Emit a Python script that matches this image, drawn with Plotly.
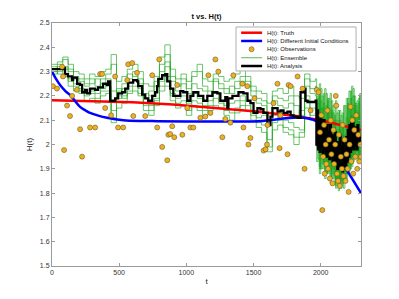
import plotly.graph_objects as go

# ---------------- data ----------------
truth_t = [0, 300, 600, 900, 1200, 1500, 1800, 2000, 2300]
truth_h = [2.182, 2.179, 2.174, 2.165, 2.152, 2.137, 2.118, 2.10, 2.06]

dic_t = [0, 30, 60, 100, 134, 170, 209, 250, 283, 350, 410, 470, 530, 650, 783, 1000, 1500, 1970, 2200, 2300]
dic_h = [2.30, 2.27, 2.245, 2.22, 2.204, 2.18, 2.155, 2.14, 2.13, 2.118, 2.11, 2.104, 2.10, 2.097, 2.096, 2.095, 2.095, 2.095, 1.89, 1.80]

obs_t = [7, 37, 75, 82, 90, 112, 134, 150, 185, 209, 224, 283, 321, 358, 373, 396, 440, 470, 492, 530,
         560, 567, 597, 605, 633, 694, 746, 783, 798, 820, 858, 866, 880, 895, 910, 932, 970, 1007, 1030, 1052,
         1104, 1141, 1164, 1179, 1216, 1238, 1268, 1290, 1328, 1350, 1417, 1425, 1454, 1462, 1477, 1507, 1575, 1590, 1600, 1604,
         1649, 1678, 1694, 1700, 1753, 1761, 1776, 1828, 1865, 1880, 1925, 1970, 1985,
         1995, 2005, 2012, 2018, 2025, 2030, 2037, 2042, 2050, 2055, 2062, 2068, 2075, 2080, 2088, 2095, 2100, 2108, 2112, 2116,
         2122, 2130, 2135, 2142, 2150, 2158, 2163, 2170, 2178, 2185, 2192, 2200, 2208, 2215, 2222, 2228, 2235, 2242, 2250, 2258,
         2265, 2272, 2280, 2288, 2295, 2300]
obs_h = [2.24, 2.23, 2.32, 2.28, 1.977, 2.16, 2.117, 2.20, 2.225, 2.063, 1.95, 2.07, 2.07, 2.29, 2.29, 2.15, 2.12, 2.28, 2.07, 2.07,
         2.265, 2.33, 2.335, 2.117, 2.295, 2.117, 2.285, 2.07, 2.35, 1.99, 1.935, 2.04, 2.043, 2.075, 2.03, 2.245, 2.04, 2.15, 2.07, 2.07,
         2.11, 2.115, 2.285, 2.13, 2.35, 2.30, 2.03, 2.105, 2.09, 2.285, 2.25, 2.07, 2.24, 2.0, 2.027, 2.19, 1.975, 1.98, 2.0, 2.08,
         2.17, 2.25, 1.985, 2.12, 1.96, 2.245, 2.24, 2.28, 2.23, 1.90, 2.14, 2.225, 2.215,
         2.05, 2.12, 1.73, 1.95, 2.08, 1.88, 2.00, 1.92, 2.14, 1.90, 2.02, 1.86, 2.10, 1.96, 1.84, 2.06, 1.92, 2.00, 2.20, 2.16,
         1.88, 1.85, 2.04, 1.83, 1.95, 1.90, 2.08, 1.87, 2.02, 1.85, 1.96, 1.90, 1.805, 2.00, 2.155, 1.93, 2.10, 1.88, 2.06, 1.95,
         2.12, 1.90, 2.04, 1.93, 2.00, 1.95]

ens_t = [0, 40, 80, 120, 160, 200, 240, 280, 320, 360, 400, 440, 480, 520, 560, 600, 640, 680, 720, 760,
         800, 840, 880, 920, 960, 1000, 1040, 1080, 1120, 1160, 1200, 1240, 1280, 1320, 1360, 1400, 1440, 1480, 1520, 1560,
         1600, 1640, 1680, 1720, 1760, 1800, 1840, 1880, 1920, 1960,
         1970, 1980, 1990, 2000, 2010, 2020, 2030, 2040, 2050, 2060, 2070, 2080, 2090, 2100, 2110, 2120, 2130,
         2140, 2150, 2160, 2170, 2180, 2190, 2200, 2210, 2220, 2230, 2240, 2250, 2260, 2270, 2280, 2290, 2300]
ens_1 = [2.33, 2.34, 2.35, 2.33, 2.30, 2.29, 2.27, 2.29, 2.28, 2.30, 2.31, 2.37, 2.26, 2.28, 2.31, 2.33, 2.30, 2.25, 2.24, 2.28,
         2.36, 2.41, 2.31, 2.27, 2.29, 2.26, 2.30, 2.33, 2.27, 2.26, 2.29, 2.28, 2.26, 2.27, 2.29, 2.31, 2.28, 2.24, 2.22, 2.21,
         2.17, 2.22, 2.23, 2.21, 2.24, 2.20, 2.19, 2.29, 2.26, 2.27,
         2.22, 1.98, 2.25, 1.95, 2.20, 1.92, 2.23, 1.94, 2.18, 1.90, 2.21, 1.92, 2.16, 1.87, 2.18, 1.85, 2.14,
         1.83, 2.12, 1.84, 2.16, 1.86, 2.19, 1.88, 2.22, 1.90, 2.24, 1.93, 2.20, 1.95, 2.18, 1.96, 2.20, 2.02]
ens_2 = [2.30, 2.29, 2.28, 2.24, 2.22, 2.21, 2.18, 2.19, 2.17, 2.20, 2.21, 2.09, 2.15, 2.17, 2.21, 2.22, 2.20, 2.14, 2.12, 2.16,
         2.22, 2.24, 2.18, 2.15, 2.16, 2.12, 2.16, 2.14, 2.12, 2.14, 2.16, 2.15, 2.12, 2.10, 2.13, 2.16, 2.14, 2.10, 2.07, 2.05,
         1.97, 2.06, 2.08, 2.05, 2.04, 2.00, 2.03, 2.15, 2.10, 2.11,
         1.93, 2.20, 1.88, 2.18, 1.90, 2.21, 1.86, 2.16, 1.88, 2.19, 1.84, 2.14, 1.86, 2.12, 1.82, 2.10, 1.81,
         2.14, 1.83, 2.09, 1.85, 2.16, 1.88, 2.19, 1.90, 2.22, 1.92, 2.20, 1.94, 2.17, 1.93, 2.19, 1.96, 2.08]
ens_3 = [2.32, 2.31, 2.36, 2.30, 2.27, 2.26, 2.24, 2.25, 2.27, 2.23, 2.27, 2.22, 2.19, 2.25, 2.29, 2.28, 2.27, 2.21, 2.20, 2.24,
         2.30, 2.34, 2.26, 2.22, 2.25, 2.21, 2.25, 2.23, 2.22, 2.20, 2.26, 2.23, 2.21, 2.24, 2.23, 2.26, 2.24, 2.20, 2.17, 2.16,
         2.10, 2.18, 2.16, 2.15, 2.17, 2.12, 2.14, 2.24, 2.21, 2.20,
         2.12, 1.94, 2.21, 1.90, 2.15, 1.93, 2.10, 1.88, 2.19, 1.91, 2.06, 1.86, 2.13, 1.84, 2.05, 1.85, 2.02,
         1.82, 2.07, 1.86, 2.00, 1.89, 2.11, 1.91, 2.15, 1.93, 2.12, 1.96, 2.17, 1.98, 2.10, 1.94, 2.21, 1.97]
ens_4 = [2.30, 2.32, 2.29, 2.27, 2.25, 2.23, 2.21, 2.22, 2.21, 2.25, 2.24, 2.14, 2.23, 2.20, 2.24, 2.26, 2.23, 2.17, 2.16, 2.19,
         2.26, 2.32, 2.21, 2.19, 2.20, 2.17, 2.21, 2.19, 2.16, 2.18, 2.21, 2.18, 2.16, 2.17, 2.18, 2.20, 2.18, 2.14, 2.11, 2.12,
         2.02, 2.12, 2.11, 2.10, 2.09, 2.07, 2.06, 2.20, 2.15, 2.14,
         2.03, 2.17, 1.90, 2.12, 1.95, 2.08, 1.90, 2.14, 1.93, 2.06, 1.88, 2.10, 1.90, 2.02, 1.86, 2.06, 1.83,
         2.00, 1.86, 2.04, 1.82, 2.02, 1.88, 2.08, 1.92, 2.12, 1.95, 2.10, 1.98, 2.16, 1.95, 2.12, 1.97, 1.93]
ens_5 = [2.31, 2.33, 2.32, 2.31, 2.28, 2.27, 2.25, 2.27, 2.24, 2.27, 2.29, 2.33, 2.22, 2.23, 2.27, 2.30, 2.25, 2.19, 2.22, 2.26,
         2.33, 2.37, 2.28, 2.24, 2.27, 2.23, 2.28, 2.30, 2.24, 2.22, 2.27, 2.25, 2.23, 2.21, 2.26, 2.28, 2.26, 2.22, 2.19, 2.18,
         2.13, 2.20, 2.19, 2.18, 2.20, 2.16, 2.12, 2.27, 2.23, 2.24,
         2.08, 2.19, 1.96, 2.23, 1.92, 2.17, 1.95, 2.21, 1.89, 2.15, 1.94, 2.18, 1.88, 2.10, 1.86, 2.13, 1.84,
         2.10, 1.85, 2.13, 1.87, 2.07, 1.90, 2.17, 1.93, 2.19, 1.95, 2.23, 1.97, 2.14, 2.00, 2.17, 1.94, 2.06]
ens_6 = [2.29, 2.30, 2.31, 2.26, 2.24, 2.22, 2.20, 2.21, 2.19, 2.22, 2.22, 2.11, 2.20, 2.19, 2.22, 2.24, 2.21, 2.16, 2.14, 2.18,
         2.24, 2.28, 2.20, 2.17, 2.18, 2.14, 2.18, 2.17, 2.14, 2.16, 2.19, 2.17, 2.14, 2.13, 2.15, 2.18, 2.16, 2.12, 2.09, 2.08,
         1.99, 2.09, 2.10, 2.07, 2.06, 2.03, 2.05, 2.18, 2.12, 2.13,
         1.99, 2.08, 1.91, 2.15, 1.94, 2.11, 1.89, 2.06, 1.92, 2.13, 1.87, 2.04, 1.91, 2.09, 1.83, 2.01, 1.85,
         2.06, 1.82, 1.98, 1.87, 2.04, 1.86, 2.10, 1.89, 2.06, 1.91, 2.15, 1.95, 2.08, 1.97, 2.13, 1.99, 2.05]
ensemble = [ens_1, ens_2, ens_3, ens_4, ens_5, ens_6]

ana_t = [0, 82, 97, 119, 149, 157, 187, 209, 224, 246, 261, 283, 321, 343, 380, 410, 418, 433, 470, 492,
         522, 545, 567, 604, 634, 642, 671, 694, 716, 746, 768, 783, 791, 820, 843, 858, 880, 903, 932, 955,
         977, 1007, 1030, 1052, 1089, 1126, 1156, 1194, 1231, 1253, 1290, 1305, 1313, 1343, 1365, 1388, 1425, 1455, 1477, 1500,
         1529, 1552, 1574, 1604, 1626, 1641, 1679, 1701, 1723, 1753, 1776, 1798, 1828, 1850, 1872, 1887, 1902, 1940,
         1962, 1968, 1974, 1980, 1986, 1992, 1998, 2004, 2010, 2016, 2022, 2028, 2034, 2040, 2046, 2052, 2058, 2064, 2070, 2076,
         2082, 2088, 2094, 2100, 2106, 2112, 2118, 2124, 2130, 2136, 2142, 2148, 2154, 2160, 2166, 2172, 2178, 2184, 2190, 2196,
         2202, 2208, 2214, 2220, 2226, 2232, 2238, 2244, 2250, 2256, 2262, 2268, 2274, 2280, 2286, 2292, 2298]
ana_h = [2.31, 2.315, 2.29, 2.28, 2.265, 2.275, 2.25, 2.245, 2.215, 2.225, 2.21, 2.23, 2.225, 2.235, 2.25, 2.245, 2.26, 2.18, 2.19, 2.21,
         2.215, 2.23, 2.255, 2.265, 2.26, 2.24, 2.205, 2.19, 2.18, 2.20, 2.215, 2.24, 2.27, 2.285, 2.29, 2.26, 2.23, 2.20, 2.20, 2.22,
         2.215, 2.18, 2.20, 2.215, 2.20, 2.18, 2.20, 2.215, 2.21, 2.18, 2.195, 2.15, 2.19, 2.20, 2.20, 2.215, 2.21, 2.18, 2.17, 2.13,
         2.15, 2.145, 2.13, 2.08, 2.115, 2.15, 2.135, 2.14, 2.13, 2.135, 2.12, 2.115, 2.11, 2.215, 2.23, 2.18, 2.175, 2.175,
         2.18, 2.00, 2.14, 1.98, 2.10, 1.97, 2.12, 1.99, 2.08, 1.96, 2.10, 1.98, 2.06, 1.95, 2.08, 1.97, 2.05, 1.94, 2.08, 1.97,
         2.04, 1.93, 2.03, 1.92, 2.05, 1.93, 2.01, 1.90, 2.00, 1.91, 2.04, 1.91, 1.99, 1.89, 2.02, 1.91, 1.98, 1.90, 2.03, 1.93,
         2.06, 1.95, 2.08, 1.97, 2.10, 1.99, 2.09, 1.98, 2.07, 2.00, 2.05, 1.98, 2.08, 2.00, 2.04, 2.01, 2.03]

x_ticks = [0, 500, 1000, 1500, 2000]
y_ticks = [1.5, 1.6, 1.7, 1.8, 1.9, 2.0, 2.1, 2.2, 2.3, 2.4, 2.5]
y_tick_labels = ["1.5", "1.6", "1.7", "1.8", "1.9", "2", "2.1", "2.2", "2.3", "2.4", "2.5"]

legend_labels = ["H(t): Truth", "H(t): Different Initial Conditions", "H(t): Observations",
                 "H(t): Ensemble", "H(t): Analysis"]

# ---------------- styles ----------------
C_TRUTH = "#FF0000"
C_DIC = "#0000FF"
C_OBS = "#EDB120"
C_OBS_EDGE = "#6b5a2a"
C_ENS = "rgba(25,165,25,0.8)"
C_ANA = "#000000"

fig = go.Figure()

for member in ensemble:
    fig.add_trace(go.Scatter(x=ens_t, y=member, mode="lines",
                             line=dict(color=C_ENS, width=0.8, shape="hv"),
                             name=legend_labels[3], showlegend=False))

fig.add_trace(go.Scatter(x=truth_t, y=truth_h, mode="lines", line=dict(color=C_TRUTH, width=2.5),
                         name=legend_labels[0], showlegend=False))
fig.add_trace(go.Scatter(x=dic_t, y=dic_h, mode="lines", line=dict(color=C_DIC, width=2.5, shape="spline"),
                         name=legend_labels[1], showlegend=False))
fig.add_trace(go.Scatter(x=ana_t, y=ana_h, mode="lines", line=dict(color=C_ANA, width=2.3, shape="hv"),
                         name=legend_labels[4], showlegend=False))
fig.add_trace(go.Scatter(x=obs_t, y=obs_h, mode="markers",
                         marker=dict(color=C_OBS, size=5, line=dict(color=C_OBS_EDGE, width=0.6)),
                         name=legend_labels[2], showlegend=False))

# ---------------- legend box (drawn in paper coordinates) ----------------
LX0, LX1, LY0, LY1 = 0.5955, 0.984, 0.8025, 0.9835
row_y = [0.960, 0.926, 0.892, 0.857, 0.823]
SAMPLE_X0, SAMPLE_X1, TEXT_X = 0.612, 0.680, 0.689

shapes = [dict(type="rect", xref="paper", yref="paper", x0=LX0, x1=LX1, y0=LY0, y1=LY1,
               line=dict(color="#9a9a9a", width=0.8), fillcolor="white", layer="above")]
line_styles = [(C_TRUTH, 2.5), (C_DIC, 2.5), None, ("rgb(90,185,90)", 1.0), (C_ANA, 2.5)]
for ry, st in zip(row_y, line_styles):
    if st is None:
        cx = (SAMPLE_X0 + SAMPLE_X1) / 2
        shapes.append(dict(type="circle", xref="paper", yref="paper",
                           x0=cx - 0.0081, x1=cx + 0.0081, y0=ry - 0.0103, y1=ry + 0.0103,
                           fillcolor=C_OBS, line=dict(color=C_OBS_EDGE, width=0.6), layer="above"))
    else:
        shapes.append(dict(type="line", xref="paper", yref="paper", x0=SAMPLE_X0, x1=SAMPLE_X1, y0=ry, y1=ry,
                           line=dict(color=st[0], width=st[1]), layer="above"))

annotations = [dict(text=lab, xref="paper", yref="paper", x=TEXT_X, y=ry, xanchor="left", yanchor="middle",
                    showarrow=False, font=dict(size=6, color="#111111"))
               for lab, ry in zip(legend_labels, row_y)]

axis_common = dict(showgrid=False, zeroline=False, showline=True, linecolor="#9a9a9a", linewidth=1,
                   mirror="ticks", ticks="inside", ticklen=3, tickcolor="#9a9a9a",
                   tickfont=dict(size=7, color="#333333"))

fig.update_layout(
    width=391, height=291,
    margin=dict(l=44, r=38, t=15, b=33),
    paper_bgcolor="white", plot_bgcolor="white",
    font=dict(family="Liberation Sans, Arial, sans-serif", color="#222222"),
    title=dict(text="<b>t vs. H(t)</b>", x=0.5, xanchor="center", xref="paper", y=0.97, yanchor="middle",
               font=dict(size=7.5, color="#111111")),
    xaxis=dict(range=[0, 2300], tickvals=x_ticks, title=dict(text="t", font=dict(size=8), standoff=2),
               **axis_common),
    yaxis=dict(range=[1.5, 2.5], tickvals=y_ticks, ticktext=y_tick_labels,
               title=dict(text="H(t)", font=dict(size=8), standoff=6), **axis_common),
    shapes=shapes,
    annotations=annotations,
    showlegend=False,
)

fig.write_html("out.html")
